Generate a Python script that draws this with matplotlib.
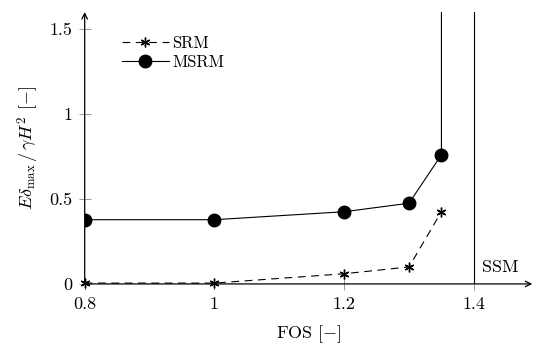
import matplotlib
matplotlib.use("Agg")
import matplotlib.pyplot as plt

plt.rcParams["font.family"] = ["cmr10", "DejaVu Serif"]
plt.rcParams["mathtext.fontset"] = "cm"
plt.rcParams["axes.unicode_minus"] = False
plt.rcParams["axes.formatter.use_mathtext"] = True

# Factor of safety and normalised maximum displacement
fos = [0.8, 1.0, 1.2, 1.3, 1.35]
srm = [0.005, 0.005, 0.06, 0.1, 0.425]
fos_msrm = [0.8, 1.0, 1.2, 1.3, 1.35, 1.35]
msrm = [0.378, 0.378, 0.425, 0.475, 0.76, 10.0]
ssm_fos = 1.4

xticks = [0.8, 1.0, 1.2, 1.4]
xticklabels = ["0.8", "1", "1.2", "1.4"]
yticks = [0, 0.5, 1.0, 1.5]
yticklabels = ["0", "0.5", "1", "1.5"]

fig = plt.figure(figsize=(5.36, 3.45), dpi=100)
ax = fig.add_axes([0.158, 0.177, 0.835, 0.788])

ax.plot(fos, srm, color="black", lw=0.8, ls=(0, (7, 5)),
        marker=(6, 2, 0), ms=7, mew=1.0, label="SRM", clip_on=False, zorder=3)
ax.plot(fos_msrm, msrm, color="black", lw=0.8, marker="o", ms=9,
        markevery=[0, 1, 2, 3, 4], label="MSRM", zorder=3)
ax.axvline(ssm_fos, color="black", lw=0.8)
ax.text(ssm_fos + 0.012, 0.07, "SSM", fontsize=13)

ax.set_xlim(0.8, 1.49)
ax.set_ylim(0, 1.6)
for s in ax.spines.values():
    s.set_visible(False)

ax.annotate("", xy=(1.0, 0), xytext=(0, 0), xycoords="axes fraction",
            arrowprops=dict(arrowstyle="->", color="black", lw=0.9, shrinkA=0, shrinkB=0))
ax.annotate("", xy=(0, 1.0), xytext=(0, 0), xycoords="axes fraction",
            arrowprops=dict(arrowstyle="->", color="black", lw=0.9, shrinkA=0, shrinkB=0))

ax.set_xticks(xticks)
ax.set_xticklabels(xticklabels)
ax.set_yticks(yticks)
ax.set_yticklabels(yticklabels)
ax.tick_params(direction="inout", length=8, width=0.6, color="#888888",
               labelsize=13, pad=5)

ax.set_xlabel("FOS [$-$]", fontsize=13, labelpad=8)
ax.set_ylabel(r"$E\delta_{\mathrm{max}}\,/\,\gamma H^2$ [$-$]", fontsize=13, labelpad=6)

ax.legend(loc="upper left", bbox_to_anchor=(0.05, 0.97), frameon=False,
          fontsize=12, handlelength=2.8, handletextpad=0.2, labelspacing=0.25)

fig.savefig("out.png", dpi=100)
